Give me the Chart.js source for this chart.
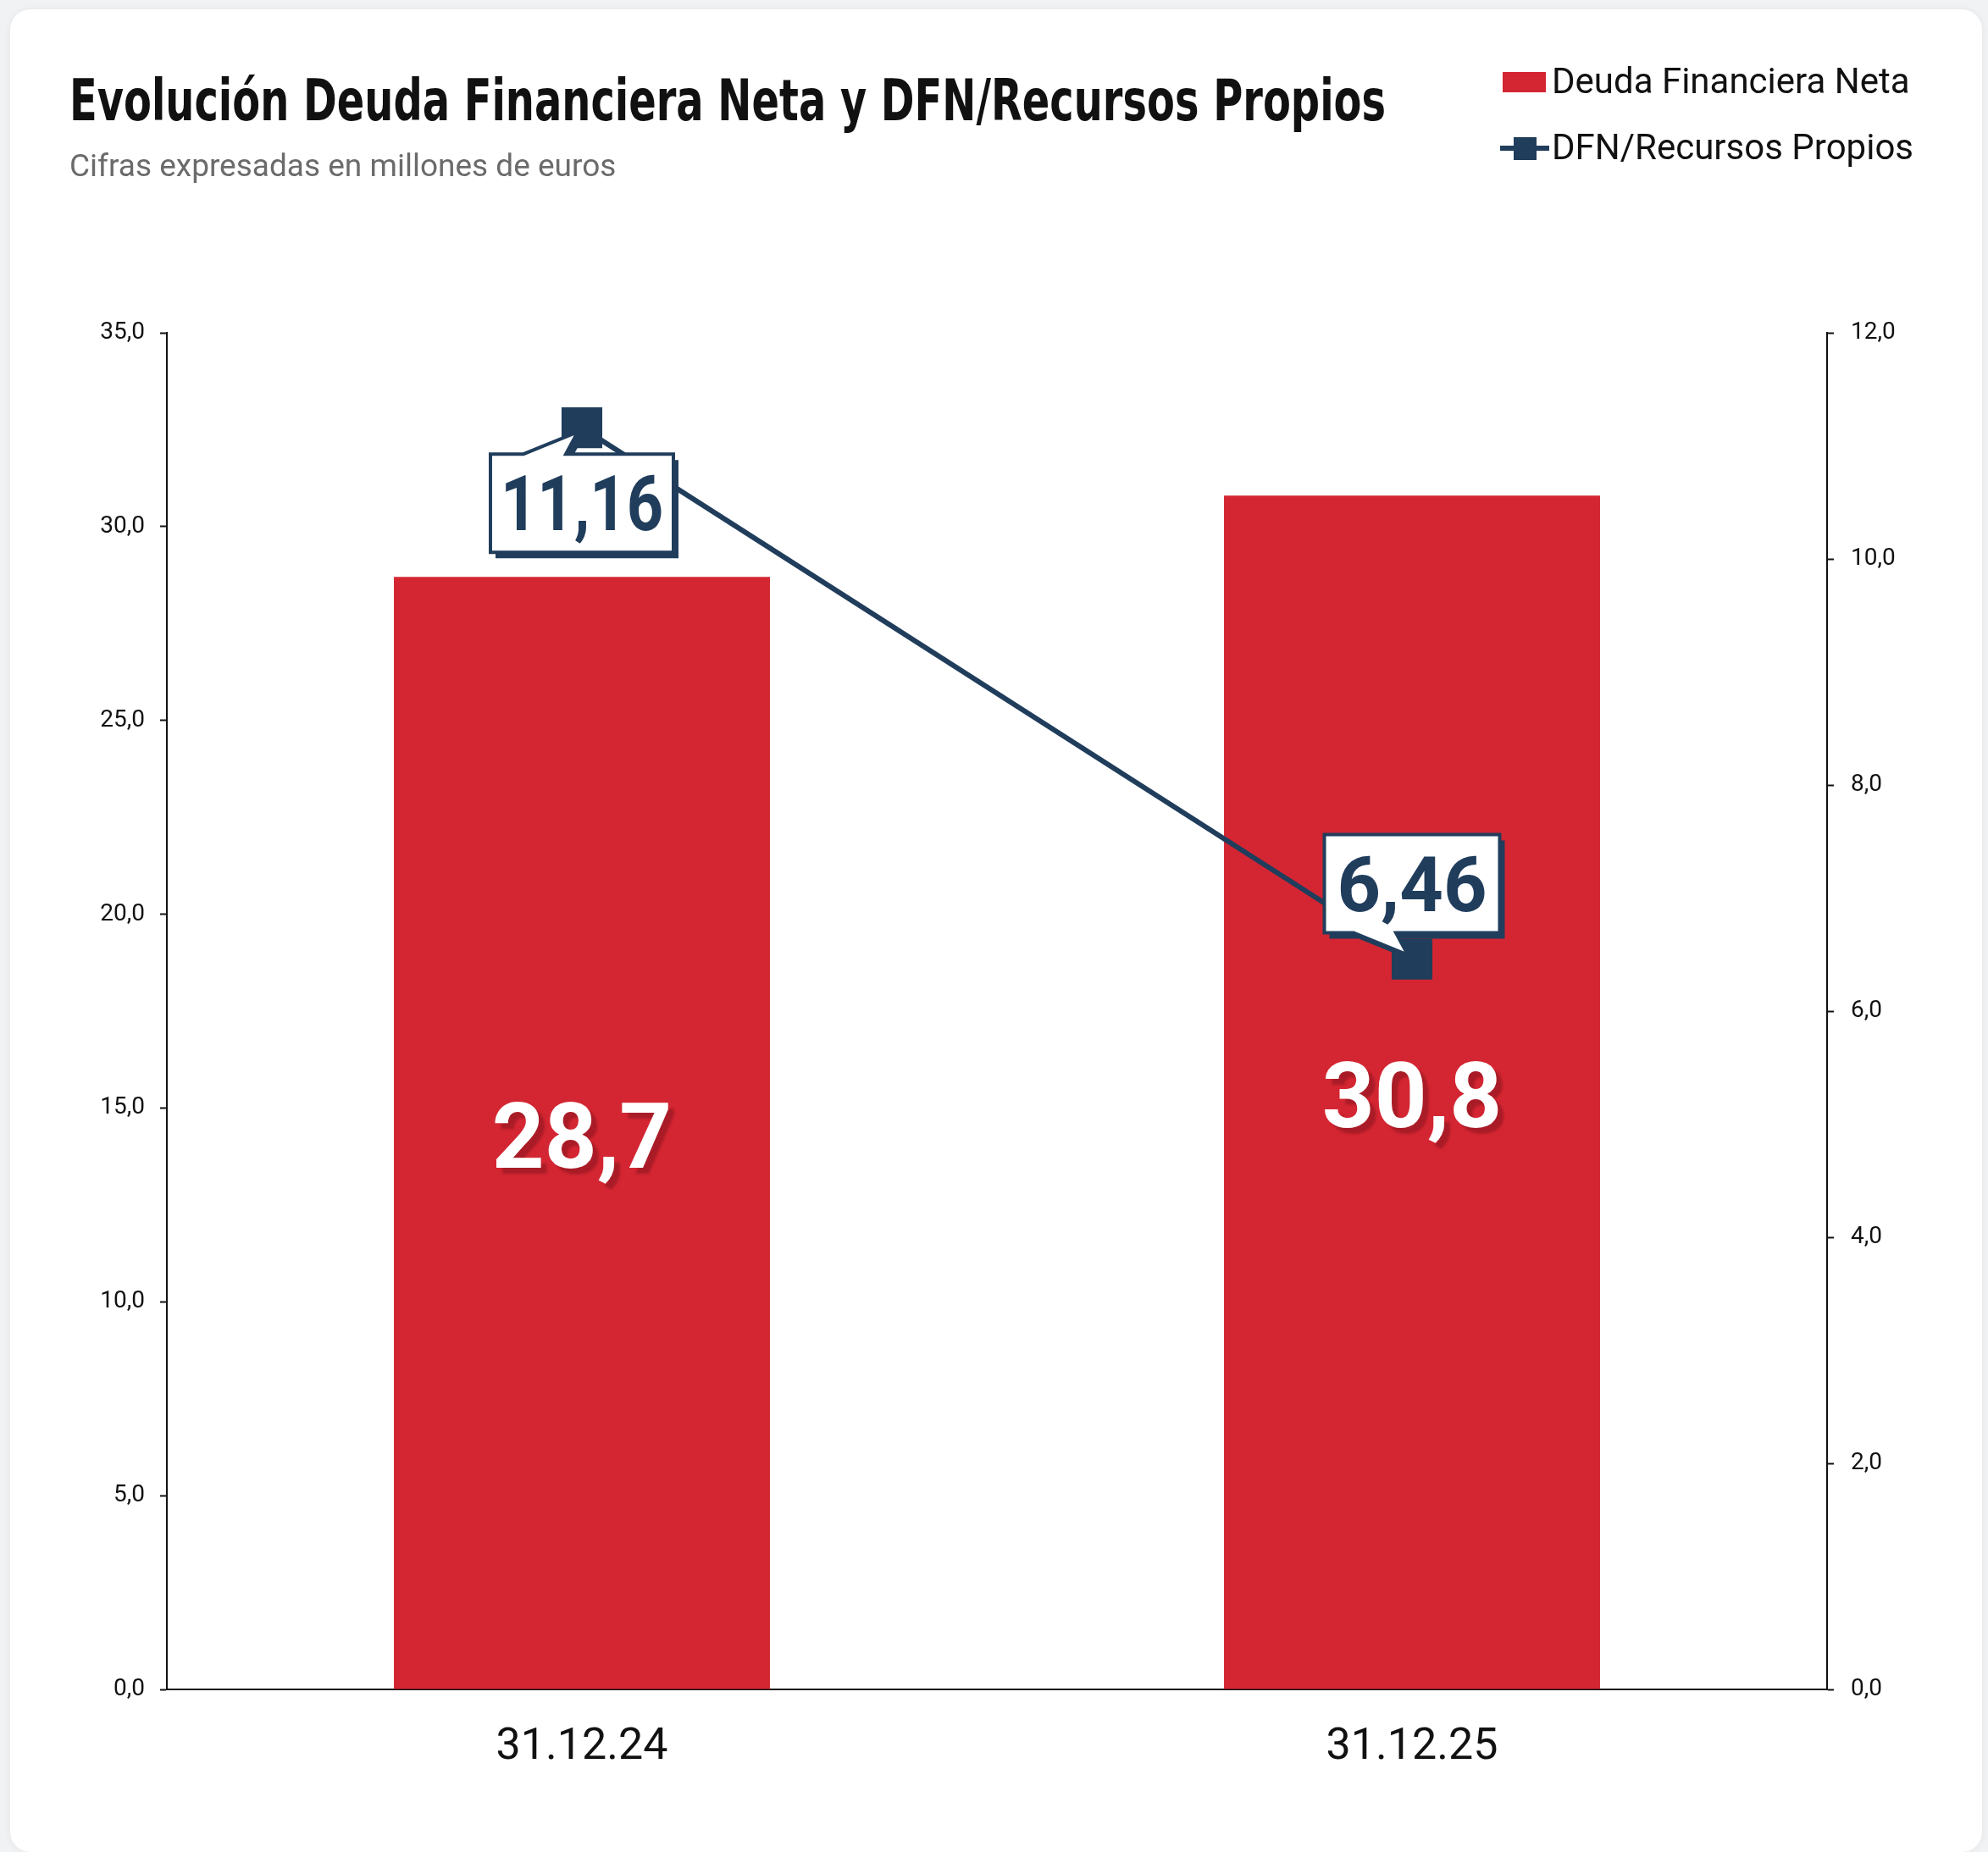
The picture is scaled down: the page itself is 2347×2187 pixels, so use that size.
<!DOCTYPE html>
<html lang="es">
<head>
<meta charset="utf-8">
<title>Evolución Deuda Financiera Neta y DFN/Recursos Propios</title>
<script src="https://cdn.jsdelivr.net/npm/chart.js@4.4.1/dist/chart.umd.min.js"></script>
<style>
  html, body { margin: 0; padding: 0; background: #f1f2f4; }
  body { width: 2347px; height: 2187px; overflow: hidden; position: relative; }
  .card { position: absolute; left: 12px; top: 11px; width: 2328px; height: 2176px; background: #fff;
          border-radius: 24px; box-shadow: 0 0 10px rgba(0,0,0,0.06); overflow: hidden; }
  canvas { display: block; }
</style>
</head>
<body>
<div class="card"><canvas id="DeudaChartjs" width="2328" height="2176"></canvas></div>
<script>
// datos
const fechas = ['31.12.24', '31.12.25'];
const deudaFinancieraNeta = [28.7, 30.8];
const dfnRecursosPropios = [11.16, 6.46];

const tituloGrafico = 'Evolución Deuda Financiera Neta y DFN/Recursos Propios';
const subtituloGrafico = 'Cifras expresadas en millones de euros';

const rojo = '#d42632';
const rojoSombra = '#a91c27';
const azul = '#203d5c';

const fmt = (v, d) => v.toFixed(d).replace('.', ',');

const DeudaChart = document.getElementById('DeudaChartjs').getContext('2d');

// titulo, subtitulo y leyenda
const headerPlugin = {
    id: 'header',
    afterDraw(chart) {
        const ctx = chart.ctx;
        ctx.save();
        ctx.textAlign = 'left';
        ctx.textBaseline = 'alphabetic';

        ctx.fillStyle = '#111';
        ctx.font = 'bold 68px "Liberation Sans Narrow", "DejaVu Sans Condensed", Roboto, sans-serif';
        const w = ctx.measureText(tituloGrafico).width;
        const sx = Math.min(1, 1554 / w);
        ctx.save();
        ctx.translate(70, 131);
        ctx.scale(sx, 1);
        ctx.fillText(tituloGrafico, 0, 0);
        ctx.restore();

        ctx.fillStyle = '#6b6b6b';
        ctx.font = '37px Roboto, sans-serif';
        ctx.fillText(subtituloGrafico, 70, 197);

        // leyenda
        ctx.font = '42px Roboto, sans-serif';
        ctx.textBaseline = 'middle';
        chart.data.datasets.forEach((ds, i) => {
            const cy = 86 + i * 78;
            if (ds.type === 'bar') {
                ctx.fillStyle = ds.backgroundColor;
                ctx.fillRect(1762, cy - 12, 51, 24);
            } else {
                ctx.strokeStyle = ds.borderColor;
                ctx.lineWidth = 6;
                ctx.beginPath();
                ctx.moveTo(1759, cy);
                ctx.lineTo(1817, cy);
                ctx.stroke();
                ctx.fillStyle = ds.borderColor;
                ctx.fillRect(1775, cy - 13, 27, 27);
            }
            ctx.fillStyle = '#111';
            ctx.fillText(ds.label, 1820, cy + 2);
        });
        ctx.restore();
    }
};

// etiquetas de barras y bocadillos de la linea
const labelsPlugin = {
    id: 'labels',
    afterDatasetsDraw(chart) {
        const ctx = chart.ctx;
        ctx.save();

        const bars = chart.getDatasetMeta(0).data;
        ctx.font = 'bold 108px Roboto, sans-serif';
        ctx.textAlign = 'center';
        ctx.textBaseline = 'alphabetic';
        bars.forEach((bar, i) => {
            const cy = (bar.y + bar.base) / 2;
            ctx.save();
            ctx.shadowColor = rojoSombra;
            ctx.shadowOffsetX = 7;
            ctx.shadowOffsetY = 7;
            ctx.shadowBlur = 3;
            ctx.fillStyle = '#fff';
            ctx.fillText(fmt(deudaFinancieraNeta[i], 1), bar.x, cy + 41);
            ctx.restore();
        });

        const pts = chart.getDatasetMeta(1).data;
        pts.forEach((pt, i) => {
            const text = fmt(dfnRecursosPropios[i], 2);
            ctx.font = 'bold 90px Roboto, sans-serif';
            const m = ctx.measureText(text);
            const inkW = m.actualBoundingBoxLeft + m.actualBoundingBoxRight;
            const tsx = Math.min(1, 184 / inkW);
            const bw = Math.max(207, inkW * tsx + 32), bh = 116, gap = 31;
            const above = pt.y - gap - bh >= chart.chartArea.top;
            const x0 = pt.x - bw / 2, x1 = pt.x + bw / 2;
            const y0 = above ? pt.y - gap - bh : pt.y + gap;
            const y1 = y0 + bh;
            const tx = pt.x - 5, ty = above ? pt.y - 5 : pt.y + 5;
            const pb1 = pt.x - 69, pb2 = pt.x - 19;

            const path = (dx, dy) => {
                ctx.beginPath();
                if (above) {
                    ctx.moveTo(x0 + dx, y0 + dy);
                    ctx.lineTo(x1 + dx, y0 + dy);
                    ctx.lineTo(x1 + dx, y1 + dy);
                    ctx.lineTo(pb2 + dx, y1 + dy);
                    ctx.lineTo(tx + dx, ty + dy);
                    ctx.lineTo(pb1 + dx, y1 + dy);
                    ctx.lineTo(x0 + dx, y1 + dy);
                } else {
                    ctx.moveTo(x0 + dx, y1 + dy);
                    ctx.lineTo(x0 + dx, y0 + dy);
                    ctx.lineTo(pb1 + dx, y0 + dy);
                    ctx.lineTo(tx + dx, ty + dy);
                    ctx.lineTo(pb2 + dx, y0 + dy);
                    ctx.lineTo(x1 + dx, y0 + dy);
                    ctx.lineTo(x1 + dx, y1 + dy);
                }
                ctx.closePath();
            };
            ctx.fillStyle = azul;
            path(6, 7);
            ctx.fill();
            ctx.fillStyle = '#fff';
            ctx.strokeStyle = azul;
            ctx.lineWidth = 4;
            ctx.lineJoin = 'miter';
            path(0, 0);
            ctx.fill();
            ctx.stroke();

            ctx.save();
            ctx.fillStyle = azul;
            ctx.textAlign = 'center';
            ctx.textBaseline = 'alphabetic';
            ctx.translate(pt.x, (y0 + y1) / 2 + 32);
            ctx.scale(tsx, 1);
            ctx.fillText(text, 0, 0);
            ctx.restore();
        });
        ctx.restore();
    }
};

new Chart(DeudaChart, {
    type: 'bar',
    data: {
        labels: fechas,
        datasets: [{
            type: 'bar',
            label: 'Deuda Financiera Neta',
            data: deudaFinancieraNeta,
            backgroundColor: rojo,
            yAxisID: 'y',
            order: 2,
            barPercentage: 0.453,
            categoryPercentage: 1
        }, {
            type: 'line',
            label: 'DFN/Recursos Propios',
            data: dfnRecursosPropios,
            borderColor: azul,
            backgroundColor: azul,
            borderWidth: 6,
            pointStyle: 'rect',
            pointRadius: 34,
            pointHoverRadius: 34,
            pointBorderWidth: 0,
            tension: 0,
            yAxisID: 'y1',
            order: 1
        }]
    },
    options: {
        responsive: false,
        animation: false,
        devicePixelRatio: 1,
        layout: { padding: { top: 382, left: 0, right: 0, bottom: 0 } },
        plugins: {
            legend: { display: false },
            tooltip: { enabled: false },
            title: { display: false }
        },
        scales: {
            x: {
                grid: { display: false, drawTicks: false },
                border: { display: true, color: '#111', width: 2 },
                ticks: { font: { family: 'Roboto', size: 52 }, color: '#111', padding: 38 },
                afterFit(s) { s.height = 192; }
            },
            y: {
                position: 'left',
                min: 0,
                max: 35,
                ticks: { stepSize: 5, callback: v => fmt(v, 1), font: { family: 'Roboto', size: 28 }, color: '#111', padding: 18 },
                grid: { drawOnChartArea: false, drawTicks: true, tickLength: 8, tickColor: '#111', tickWidth: 2 },
                border: { display: true, color: '#111', width: 2 },
                afterFit(s) { s.width = 185; }
            },
            y1: {
                position: 'right',
                min: 0,
                max: 12,
                ticks: { stepSize: 2, callback: v => fmt(v, 1), font: { family: 'Roboto', size: 28 }, color: '#111', padding: 20 },
                grid: { drawOnChartArea: false, drawTicks: true, tickLength: 8, tickColor: '#111', tickWidth: 2 },
                border: { display: true, color: '#111', width: 2 },
                afterFit(s) { s.width = 183; }
            }
        }
    },
    plugins: [labelsPlugin, headerPlugin]
});
</script>
</body>
</html>
